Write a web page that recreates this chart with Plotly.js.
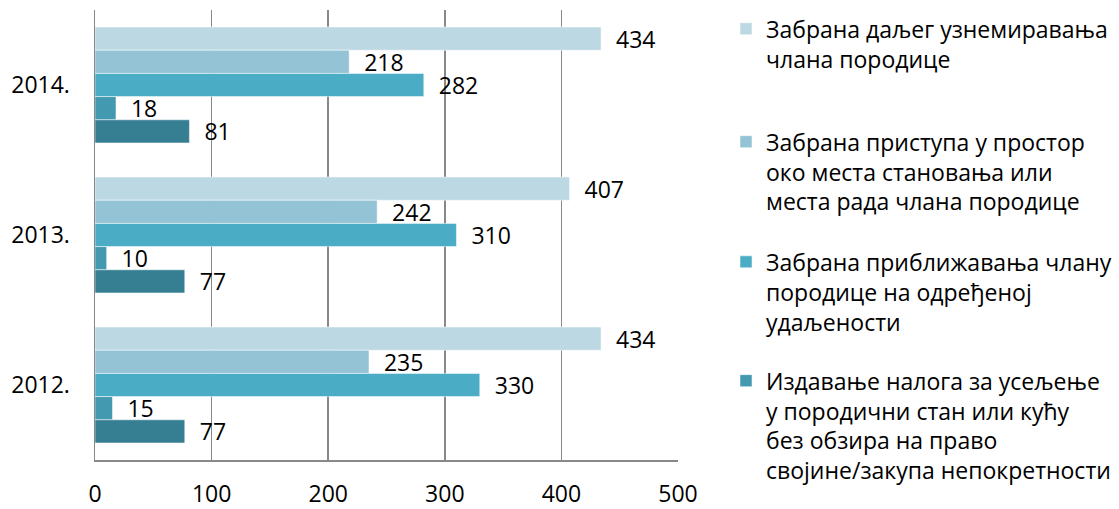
<!DOCTYPE html>
<html>
<head>
<meta charset="utf-8">
<script src="https://cdn.plot.ly/plotly-3.0.1.min.js"></script>
<style>html,body{margin:0;padding:0;background:#fff;}#chart{width:1119px;height:509px;}</style>
</head>
<body>
<div id="chart"></div>
<script>
const categories = ['2014.', '2013.', '2012.'];
const seriesNames = [
  'Забрана даљег узнемиравања<br>члана породице',
  'Забрана приступа у простор<br>око места становања или<br>места рада члана породице',
  'Забрана приближавања члану<br>породице на одређеној<br>удаљености',
  'Издавање налога за усељење<br>у породични стан или кућу<br>без обзира на право<br>својине/закупа непокретности',
  'Пети тип мере'
];
const s1 = [434, 407, 434];
const s2 = [218, 242, 235];
const s3 = [282, 310, 330];
const s4 = [18, 10, 15];
const s5 = [81, 77, 77];
const colors = ['#BCD8E3', '#93C3D4', '#4BACC6', '#4299B0', '#367F93'];
const series = [s1, s2, s3, s4, s5];
const legendIds = ['legend', 'legend2', 'legend3', 'legend4', 'legend'];
const FONT = 'Open Sans, DejaVu Sans, sans-serif';

const traces = series.map((vals, i) => ({
  type: 'bar',
  orientation: 'h',
  name: seriesNames[i],
  y: categories,
  x: vals,
  marker: {color: colors[i], line: {color: 'rgba(255,255,255,0.5)', width: 1}},
  text: vals.map(v => '\u00a0\u00a0' + v),
  textposition: 'outside',
  constraintext: 'none',
  cliponaxis: false,
  textfont: {family: FONT, size: 23, color: '#000'},
  showlegend: i < 4,
  legend: legendIds[i],
  hoverinfo: 'x+name'
}));

function leg(y) {
  return {
    xref: 'container', x: 0.6488, xanchor: 'left',
    yref: 'paper', y: y, yanchor: 'top',
    font: {family: FONT, size: 23, color: '#000'},
    itemwidth: 30, valign: 'top',
    bgcolor: 'rgba(0,0,0,0)'
  };
}

const layout = {
  width: 1119, height: 509,
  margin: {l: 95, r: 441, t: 10, b: 49, autoexpand: false},
  paper_bgcolor: '#fff', plot_bgcolor: '#fff',
  barmode: 'group', bargap: 0.227, bargroupgap: 0,
  font: {family: FONT, color: '#000'},
  xaxis: {
    range: [0, 500], dtick: 100, tick0: 0,
    showgrid: true, gridcolor: '#888', gridwidth: 1.5,
    zeroline: false, showline: true, linecolor: '#888', linewidth: 1.5,
    ticks: '', ticklabelstandoff: 13,
    tickfont: {family: FONT, size: 23, color: '#000'}
  },
  yaxis: {
    type: 'category', autorange: 'reversed',
    showgrid: false, zeroline: false, showline: true, linecolor: '#888', linewidth: 1.5,
    ticks: '', ticklabelstandoff: 19,
    tickfont: {family: FONT, size: 23, color: '#000'}
  },
  legend: leg(1.006),
  legend2: leg(0.755),
  legend3: leg(0.488),
  legend4: leg(0.224)
};

Plotly.newPlot('chart', traces, layout, {displayModeBar: false, staticPlot: true});
</script>
</body>
</html>
